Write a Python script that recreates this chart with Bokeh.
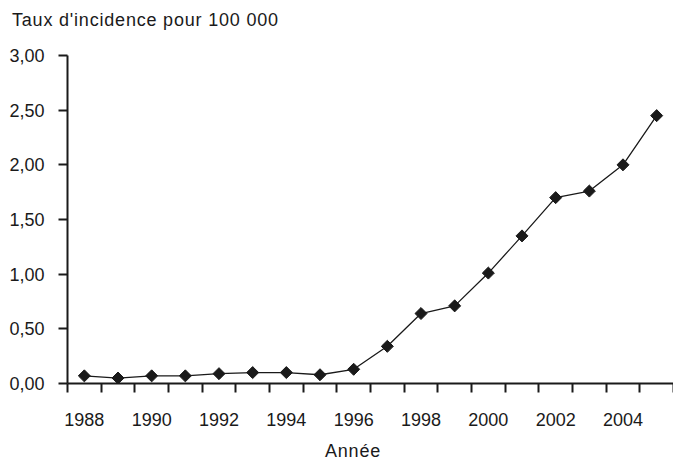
import math
from bokeh.plotting import figure
from bokeh.models import FixedTicker, CustomJSTickFormatter, Range1d, Div
from bokeh.layouts import column
from bokeh.embed import file_html
from bokeh.resources import INLINE

years = [1988, 1989, 1990, 1991, 1992, 1993, 1994, 1995, 1996,
         1997, 1998, 1999, 2000, 2001, 2002, 2003, 2004, 2005]
rates = [0.07, 0.05, 0.07, 0.07, 0.09, 0.10, 0.10, 0.08, 0.13,
         0.34, 0.64, 0.71, 1.01, 1.35, 1.70, 1.76, 2.00, 2.45]
x_label_years = [1988, 1990, 1992, 1994, 1996, 1998, 2000, 2002, 2004]
y_ticks = [0.0, 0.5, 1.0, 1.5, 2.0, 2.5, 3.0]
title_text = "Taux d'incidence pour 100 000"
x_title = "Année"

FONT = "Liberation Sans"
INK = "#1a1a1a"

p = figure(frame_width=606, frame_height=328,
           min_border_left=67, min_border_right=0, min_border_top=25, min_border_bottom=55,
           output_backend="svg", toolbar_location=None,
           x_range=Range1d(years[0] - 0.5, years[-1] + 0.5),
           y_range=Range1d(0, 3.0), margin=0)

p.outline_line_color = None
p.xgrid.visible = False
p.ygrid.visible = False
p.background_fill_color = "white"
p.border_fill_color = "white"

p.line(years, rates, line_color=INK, line_width=1.3)
p.scatter(years, rates, marker="square", size=8.5, angle=math.pi / 4,
          fill_color=INK, line_color=INK, line_width=1)

# x axis
xa = p.xaxis[0]
xa.ticker = FixedTicker(ticks=x_label_years,
                        minor_ticks=[y - 0.5 for y in years] + [years[-1] + 0.5])
xa.formatter = CustomJSTickFormatter(code="return tick.toFixed(0);")
xa.major_tick_out = 0
xa.major_tick_in = 0
xa.minor_tick_out = 9
xa.minor_tick_in = 0
xa.minor_tick_line_color = INK
xa.minor_tick_line_width = 2
xa.axis_line_color = INK
xa.axis_line_width = 2
xa.major_label_standoff = 20
xa.major_label_text_font = FONT
xa.major_label_text_font_size = "18px"
xa.major_label_text_color = INK

# y axis
ya = p.yaxis[0]
ya.ticker = FixedTicker(ticks=y_ticks, minor_ticks=[])
ya.formatter = CustomJSTickFormatter(code="return tick.toFixed(2).replace('.', ',');")
ya.major_tick_out = 9
ya.major_tick_in = 0
ya.major_tick_line_color = INK
ya.major_tick_line_width = 2
ya.axis_line_color = INK
ya.axis_line_width = 2
ya.major_label_standoff = 14
ya.major_label_text_font = FONT
ya.major_label_text_font_size = "18px"
ya.major_label_text_color = INK

txt_style = ("position:relative;font-family:'Liberation Sans';font-size:18px;"
             "color:%s;white-space:nowrap;letter-spacing:0.8px;" % INK)

title_div = Div(
    text='<div style="%sleft:12px;top:10px;line-height:20px;">%s</div>' % (txt_style, title_text),
    width=673, height=30, margin=0)

xlabel_div = Div(
    text='<div style="%sleft:325px;top:3px;line-height:20px;">%s</div>' % (txt_style, x_title),
    width=673, height=23, margin=0)

layout = column(title_div, p, xlabel_div, spacing=0, margin=0)

open("out.html", "w").write(file_html(layout, INLINE))
